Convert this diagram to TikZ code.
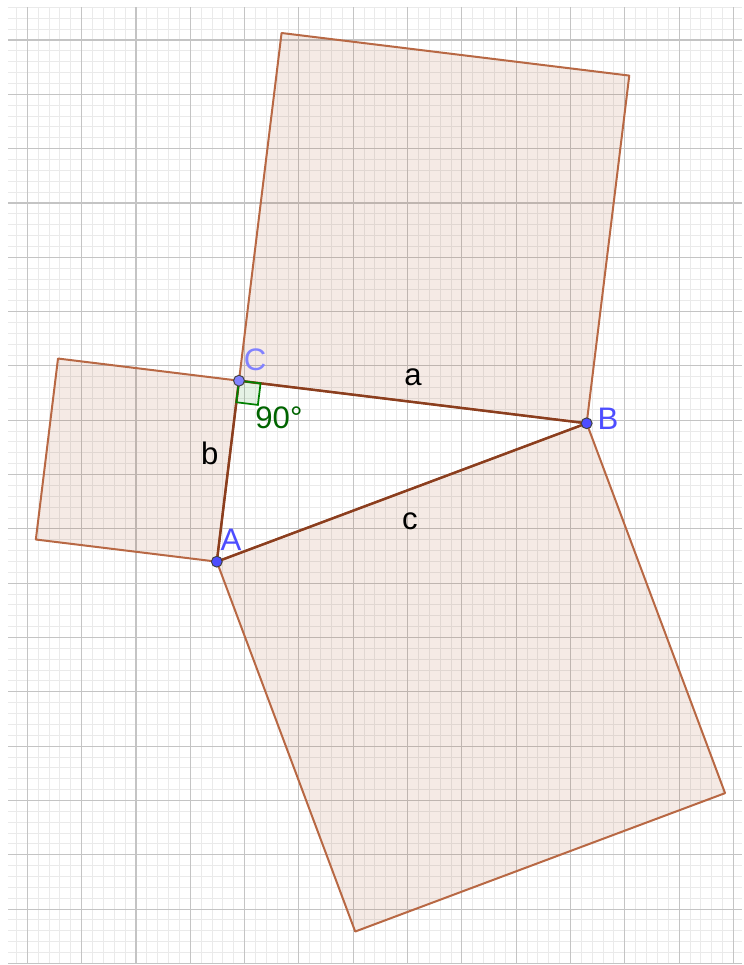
\documentclass[tikz,border=0pt]{standalone}
\usepackage{fontspec}
\setmainfont{Liberation Sans}
\usetikzlibrary{calc}

\definecolor{sqedge}{RGB}{184,104,68}
\definecolor{sqbrown}{RGB}{153,51,0}
\definecolor{triside}{RGB}{139,62,30}
\definecolor{ptblue}{RGB}{77,77,255}
\definecolor{ptlight}{RGB}{130,130,255}
\definecolor{angdark}{RGB}{0,100,0}
\definecolor{angmark}{RGB}{0,128,0}
\definecolor{gridmajor}{RGB}{196,196,196}
\definecolor{gridminor}{RGB}{234,234,234}

\begin{document}
\begin{tikzpicture}[
    square/.style={draw=sqedge, fill=sqbrown, fill opacity=0.1, draw opacity=1, line width=1.05pt, line join=round},
    side/.style={draw=triside, line width=1.3pt, line cap=round},
    pt/.style={circle, draw=black!75, fill=ptblue, inner sep=0pt, minimum size=0.2cm, line width=0.5pt},
    lbl/.style={inner sep=0pt, font=\fontsize{16.3}{19}\selectfont},
]
    \useasboundingbox (-0.5026,-17.029) rectangle (13.194,0.7364);

    % grid (minor in fifths, then major)
    \begin{scope}[scale=0.2]
        \draw[gridminor, line width=0.5pt, step=1] (-1.775,-85.02) grid (65.8,3.04);
    \end{scope}
    \draw[gridmajor, line width=0.6pt, step=1] (-0.355,-17.004) grid (13.16,0.608);

    % triangle vertices
    \coordinate (C) at (3.897,-6.272);
    \coordinate (B) at (10.298,-7.056);
    \coordinate (A) at ($(C)!0.5205!-90:(B)$);

    % outer corners of the squares
    \coordinate (Ca) at ($(C)!1!90:(B)$);
    \coordinate (Ba) at ($(B)!1!-90:(C)$);
    \coordinate (Cb) at ($(C)!1!-90:(A)$);
    \coordinate (Ab) at ($(A)!1!90:(C)$);
    \coordinate (Ac) at ($(A)!1!-90:(B)$);
    \coordinate (Bc) at ($(B)!1!90:(A)$);

    \filldraw[square] (C) -- (Ca) -- (Ba) -- (B) -- cycle;
    \filldraw[square] (C) -- (Cb) -- (Ab) -- (A) -- cycle;
    \filldraw[square] (A) -- (Ac) -- (Bc) -- (B) -- cycle;

    \draw[side] (C) -- (B) -- (A) -- cycle;

    % right angle at C
    \coordinate (R1) at ($(C)!0.4cm!(B)$);
    \coordinate (R2) at ($(C)!0.4cm!(A)$);
    \coordinate (R3) at ($(R1)+(R2)-(C)$);
    \filldraw[draw=angmark, fill=angmark, fill opacity=0.1, draw opacity=1, line width=0.9pt]
        (C) -- (R1) -- (R3) -- (R2) -- cycle;

    \node[lbl] (la) at (7.100,-6.217) {a};
    \node[lbl] (lb) at (3.358,-7.616) {b};
    \node[lbl] (lc) at (7.045,-8.868) {c};
    \node[lbl, text=angdark] (l90) at (4.633,-6.959) {90°};
    \node[lbl, text=ptblue] (lA) at (3.750,-9.205) {A};
    \node[lbl, text=ptblue] (lB) at (10.691,-6.977) {B};
    \node[lbl, text=ptlight] (lC) at (4.192,-5.891) {C};

    \node[pt] (pA) at (A) {};
    \node[pt] (pB) at (B) {};
    \node[pt, fill=ptlight] (pC) at (C) {};
\end{tikzpicture}
\end{document}
